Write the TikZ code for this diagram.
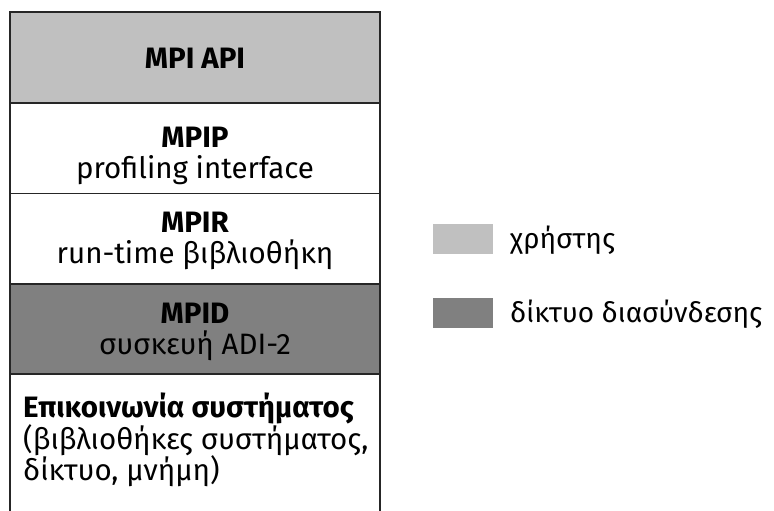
\documentclass[tikz,border=0pt]{standalone}
\usepackage{fontspec}
\setmainfont{Fira Sans}
\begin{document}
\begin{tikzpicture}[x=1pt,y=-1pt,
  layer/.style={draw=black!85,line width=1.2pt},
  lbl/.style={anchor=base,font=\fontsize{29.5}{31}\selectfont,inner sep=0pt},
  txt/.style={anchor=base west,font=\fontsize{29.5}{31}\selectfont,inner sep=0pt},
  leg/.style={anchor=base west,font=\fontsize{28}{31}\selectfont,inner sep=0pt}]
\useasboundingbox (0,0) rectangle (774,511);
\definecolor{userg}{HTML}{C0C0C0}
\definecolor{netg}{HTML}{808080}
\begin{scope}
\clip (0,0) rectangle (774,511);
\draw[layer,fill=white] (10,374) rectangle (380,530);
\end{scope}
\draw[layer,fill=userg] (10,12) rectangle (380,103);
\draw[layer,fill=white] (10,103) rectangle (380,193.5);
\draw[layer,fill=white] (10,193.5) rectangle (380,284);
\draw[layer,fill=netg] (10,284) rectangle (380,374);
\node[lbl] (api) at (195,69) {\textbf{MPI API}};
\node[lbl] (mpip) at (195,147) {\textbf{MPIP}};
\node[lbl] (mpip2) at (195,178) {profiling interface};
\node[lbl] (mpir) at (195,232) {\textbf{MPIR}};
\node[lbl] (mpir2) at (195,263) {run-time βιβλιοθήκη};
\node[lbl] (mpid) at (195,323) {\textbf{MPID}};
\node[lbl] (mpid2) at (195,354) {συσκευή ADI-2};
\node[txt] (sys1) at (23,417) {\textbf{Επικοινωνία συστήματος}};
\node[txt] (sys2) at (23,449) {(βιβλιοθήκες συστήματος,};
\node[txt] (sys3) at (23,480) {δίκτυο, μνήμη)};
\fill[userg] (433,224) rectangle (493,254);
\fill[netg] (433,298) rectangle (493,328);
\node[leg] (l1) at (510,248) {χρήστης};
\node[leg] (l2) at (510,322) {δίκτυο διασύνδεσης};
\end{tikzpicture}
\end{document}
